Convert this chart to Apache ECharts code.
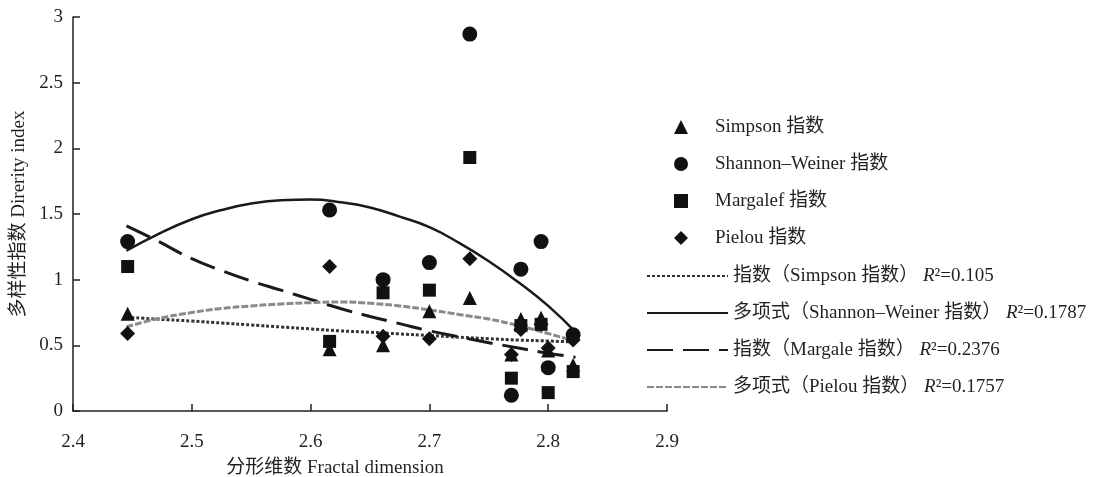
<!DOCTYPE html>
<html>
<head>
<meta charset="utf-8">
<script src="https://cdn.jsdelivr.net/npm/echarts@6/dist/echarts.min.js"></script>
<style>
html,body{margin:0;padding:0;background:#fff;}
#chart{width:1103px;height:477px;}
</style>
</head>
<body>
<div id="chart"></div>
<script>
// Site fractal dimensions (x) and index values
var siteX    = [2.446, 2.616, 2.661, 2.700, 2.734, 2.769, 2.777, 2.794, 2.800, 2.821];
var simpson  = [0.74, 0.47, 0.50, 0.76, 0.86, 0.43, 0.70, 0.71, 0.46, 0.35];
var shannon  = [1.29, 1.53, 1.00, 1.13, 2.87, 0.12, 1.08, 1.29, 0.33, 0.58];
var margalef = [1.10, 0.53, 0.90, 0.92, 1.93, 0.25, 0.65, 0.66, 0.14, 0.30];
var pielou   = [0.59, 1.10, 0.57, 0.55, 1.16, 0.43, 0.62, 0.66, 0.48, 0.54];

// Trend lines
var trendX        = [2.445, 2.47, 2.5, 2.525, 2.55, 2.575, 2.6, 2.625, 2.65, 2.675, 2.7, 2.725, 2.75, 2.775, 2.8, 2.823];
var simpsonTrend  = [0.715, 0.70, 0.685, 0.67, 0.655, 0.64, 0.625, 0.61, 0.60, 0.587, 0.575, 0.562, 0.55, 0.54, 0.533, 0.525];
var shannonTrend  = [1.22, 1.34, 1.46, 1.53, 1.58, 1.605, 1.61, 1.59, 1.55, 1.48, 1.40, 1.28, 1.14, 0.98, 0.80, 0.60];
var margalefTrend = [1.41, 1.30, 1.16, 1.07, 0.99, 0.92, 0.85, 0.78, 0.72, 0.665, 0.61, 0.565, 0.52, 0.48, 0.44, 0.41];
var pielouTrend   = [0.64, 0.70, 0.75, 0.78, 0.80, 0.815, 0.825, 0.83, 0.82, 0.80, 0.77, 0.735, 0.70, 0.65, 0.59, 0.53];

var scatterNames = ['Simpson 指数', 'Shannon–Weiner 指数', 'Margalef 指数', 'Pielou 指数'];
var trendNames = ['指数（Simpson 指数）', '多项式（Shannon–Weiner 指数）', '指数（Margale 指数）', '多项式（Pielou 指数）'];
var r2Labels = ['0.105', '0.1787', '0.2376', '0.1757'];

function pairs(xs, ys){ return xs.map(function(x,i){ return [x, ys[i]]; }); }

var FONT = "'Liberation Serif', 'Noto Sans CJK SC', serif";
var TXT = '#231f20';

var chart = echarts.init(document.getElementById('chart'), null, {renderer:'canvas'});

var scatterSets = [simpson, shannon, margalef, pielou];
var symbols = ['triangle', 'circle', 'rect', 'diamond'];
var symSizes = [14, 15, 13, 15];
var scatterZ = [4, 4, 4, 3];
var trendSets = [simpsonTrend, shannonTrend, margalefTrend, pielouTrend];
var lineStyles = [
  {color:'#333333', width:3, type:[3,2]},
  {color:'#1a1a1a', width:2.5, type:'solid'},
  {color:'#1a1a1a', width:3, type:[26,10]},
  {color:'#8a8a8a', width:3, type:[7,2]}
];

var series = [];
trendSets.forEach(function(t, i){
  series.push({
    name: trendNames[i],
    type: 'line',
    smooth: true,
    symbol: 'none',
    data: pairs(trendX, t),
    lineStyle: lineStyles[i],
    itemStyle: {color: lineStyles[i].color},
    z: 2
  });
});
scatterSets.forEach(function(s, i){
  series.push({
    name: scatterNames[i],
    type: 'scatter',
    symbol: symbols[i],
    symbolSize: symSizes[i],
    data: pairs(siteX, s),
    itemStyle: {color:'#111', opacity:1},
    z: scatterZ[i]
  });
});

var option = {
  backgroundColor: '#fff',
  animation: false,
  grid: {left:73, right:436, top:17, bottom:66, containLabel:false, outerBoundsMode:'none'},
  xAxis: {
    type:'value', min:2.4, max:2.9, interval:0.1,
    name:'分形维数 Fractal dimension', nameLocation:'middle', nameGap:48,
    nameTextStyle:{fontFamily:FONT, fontSize:19, color:TXT, padding:[0,70,0,0]},
    axisLine:{show:true, onZero:false, lineStyle:{color:'#222', width:1.5}},
    axisTick:{show:true, inside:true, length:7, lineStyle:{color:'#222', width:1.5}},
    axisLabel:{fontFamily:FONT, fontSize:19, color:TXT, margin:22,
      formatter:function(v){ return (Math.round(v*10)/10).toString(); }},
    splitLine:{show:false}
  },
  yAxis: {
    type:'value', min:0, max:3, interval:0.5,
    name:'多样性指数 Direrity index', nameLocation:'middle', nameGap:41,
    nameTextStyle:{fontFamily:FONT, fontSize:19, color:TXT},
    axisLine:{show:true, onZero:false, lineStyle:{color:'#222', width:1.5}},
    axisTick:{show:true, inside:true, length:7, lineStyle:{color:'#222', width:1.5}},
    axisLabel:{fontFamily:FONT, fontSize:19, color:TXT, margin:10},
    splitLine:{show:false}
  },
  legend: [
    {
      data: scatterNames.map(function(n,i){ return {name:n, icon:symbols[i]}; }),
      orient:'vertical', left:669, top:112,
      itemWidth:14, itemHeight:14, itemGap:17,
      textStyle:{fontFamily:FONT, fontSize:19, color:TXT, lineHeight:20, padding:[0,0,0,22]},
      selectedMode:false
    },
    {
      data: trendNames,
      orient:'vertical', left:641, top:261,
      itemWidth:81, itemHeight:14, itemGap:17,
      itemStyle:{opacity:0},
      textStyle:{fontFamily:FONT, fontSize:19, color:TXT, lineHeight:20,
        rich:{i:{fontFamily:FONT, fontSize:19, fontStyle:'italic', color:TXT, lineHeight:20}}},
      formatter:function(name){
        var i = trendNames.indexOf(name);
        return name + ' {i|R}²=' + r2Labels[i];
      },
      selectedMode:false
    }
  ],
  series: series
};
chart.setOption(option);
</script>
</body>
</html>
